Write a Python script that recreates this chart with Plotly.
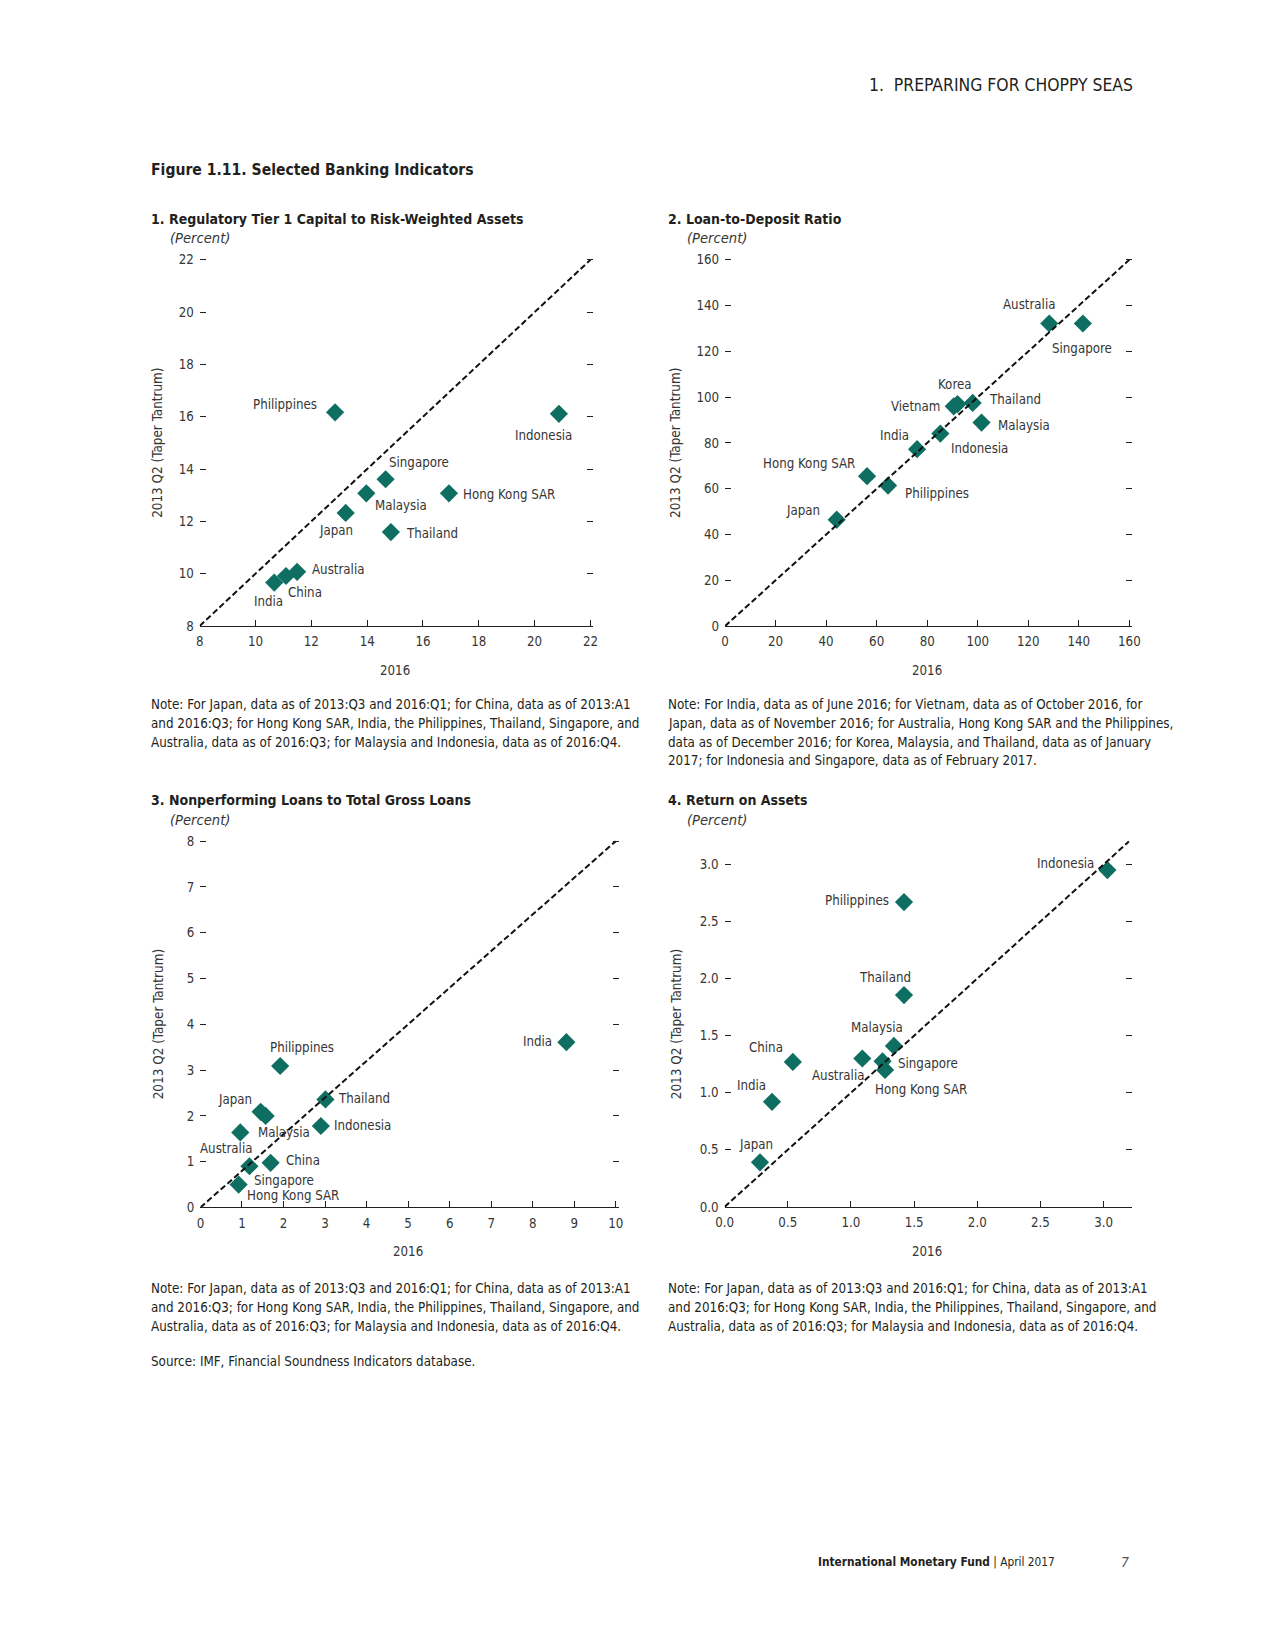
import plotly.graph_objects as go

W, H = 1275, 1650
FONT = "DejaVu Sans Condensed, Liberation Sans, sans-serif"
TEAL = "#0f6e62"
INK = "#231f20"
GREY = "#363636"

# ---------------- data ----------------
# Panel 1: Regulatory Tier 1 capital to RWA
p1_names = ["Philippines", "Indonesia", "Singapore", "Malaysia", "Hong Kong SAR",
            "Japan", "Thailand", "Australia", "China", "India"]
p1_x2016 = [12.85, 20.87, 14.66, 13.97, 16.93, 13.23, 14.85, 11.49, 11.09, 10.67]
p1_y2013 = [16.17, 16.11, 13.61, 13.07, 13.07, 12.32, 11.59, 10.07, 9.91, 9.66]
p1_xrange = [8, 22]
p1_yrange = [8, 22]
p1_ticks = [8, 10, 12, 14, 16, 18, 20, 22]

# Panel 2: Loan-to-deposit ratio
p2_names = ["Australia", "Singapore", "Korea", "Vietnam", "Thailand", "Malaysia",
            "Indonesia", "India", "Hong Kong SAR", "Philippines", "Japan"]
p2_x2016 = [128.3, 141.6, 92.0, 90.5, 98.0, 101.5, 85.2, 76.0, 56.2, 64.5, 44.2]
p2_y2013 = [132.2, 132.2, 97.0, 96.0, 97.5, 88.9, 84.1, 77.3, 65.5, 61.4, 46.5]
p2_xrange = [0, 160]
p2_yrange = [0, 160]
p2_ticks = [0, 20, 40, 60, 80, 100, 120, 140, 160]

# Panel 3: NPLs to total gross loans
p3_names = ["India", "Philippines", "Thailand", "Indonesia", "Japan", "Malaysia",
            "Australia", "China", "Singapore", "Hong Kong SAR"]
p3_x2016 = [8.81, 1.92, 3.01, 2.90, 1.45, 1.57, 0.96, 1.69, 1.18, 0.92]
p3_y2013 = [3.61, 3.09, 2.36, 1.78, 2.09, 2.00, 1.64, 0.975, 0.90, 0.50]
p3_xrange = [0, 10]
p3_yrange = [0, 8]
p3_xticks = [0, 1, 2, 3, 4, 5, 6, 7, 8, 9, 10]
p3_yticks = [0, 1, 2, 3, 4, 5, 6, 7, 8]

# Panel 4: Return on assets
p4_names = ["Indonesia", "Philippines", "Thailand", "Malaysia", "China", "Australia",
            "Singapore", "Hong Kong SAR", "India", "Japan"]
p4_x2016 = [3.03, 1.42, 1.42, 1.34, 0.54, 1.09, 1.25, 1.27, 0.375, 0.28]
p4_y2013 = [2.95, 2.67, 1.855, 1.41, 1.27, 1.30, 1.275, 1.20, 0.92, 0.39]
p4_xrange = [0, 3.2]
p4_yrange = [0, 3.2]
p4_ticks = [0.0, 0.5, 1.0, 1.5, 2.0, 2.5, 3.0]

# label placement (xanchor, xshift px, yshift px) -- styling only
p1_lab = [("right", -16, 8), ("center", -15, -22), ("left", 1, 17), ("left", 7, -12),
          ("left", 12, -1), ("center", -10, -18), ("left", 13, -1), ("left", 13, 2),
          ("left", 0, -17), ("center", -6, -19)]
p2_lab = [("center", -20, 19), ("center", -1, -25), ("center", -3, 20), ("right", -12, 0),
          ("left", 14, 3), ("left", 14, -3), ("left", 9, -15), ("right", -6, 14),
          ("right", -10, 13), ("left", 15, -8), ("right", -15, 9)]
p3_lab = [("right", -12, 1), ("center", 22, 18), ("left", 11, 1), ("left", 11, 0),
          ("right", -7, 12), ("left", -10, -17), ("center", -14, -16), ("left", 13, 2),
          ("left", 3, -14), ("left", 6, -11)]
p4_lab = [("right", -11, 7), ("right", -13, 2), ("center", -19, 18), ("center", -17, 18),
          ("center", -27, 14), ("center", -24, -17), ("left", 13, -2), ("left", -12, -20),
          ("center", -20, 16), ("center", -4, 18)]

# note texts (one entry per printed line)
note_a = ["Note: For Japan, data as of 2013:Q3 and 2016:Q1; for China, data as of 2013:A1",
          "and 2016:Q3; for Hong Kong SAR, India, the Philippines, Thailand, Singapore, and",
          "Australia, data as of 2016:Q3; for Malaysia and Indonesia, data as of 2016:Q4."]
note_b = ["Note: For India, data as of June 2016; for Vietnam, data as of October 2016, for",
          "Japan, data as of November 2016; for Australia, Hong Kong SAR and the Philippines,",
          "data as of December 2016; for Korea, Malaysia, and Thailand, data as of January",
          "2017; for Indonesia and Singapore, data as of February 2017."]
source_line = ["Source: IMF, Financial Soundness Indicators database."]

LAB = 13.2   # label / tick font size
PADPX = 3.0  # px of headroom beyond the top / right frame so end ticks get drawn


def px_x(v):
    return v / W


def px_y(v):
    return 1 - v / H


fig = go.Figure()
annotations = []
layout = {}

panels = [
    (1, (193.3, 589.3, 257.7, 626.5), p1_xrange, p1_yrange, p1_ticks, p1_ticks, None,
     p1_names, p1_x2016, p1_y2013, p1_lab),
    (2, (725.7, 1135.5, 257.7, 626.7), p2_xrange, p2_yrange, p2_ticks, p2_ticks, None,
     p2_names, p2_x2016, p2_y2013, p2_lab),
    (3, (194.0, 615.0, 843.3, 1212.3), p3_xrange, p3_yrange, p3_xticks, p3_yticks, None,
     p3_names, p3_x2016, p3_y2013, p3_lab),
    (4, (725.3, 1135.0, 843.7, 1211.7), p4_xrange, p4_yrange, p4_ticks, p4_ticks, ".1f",
     p4_names, p4_x2016, p4_y2013, p4_lab),
]

for n, (l, r, t, b), xr, yr, xt, yt, fmt, names, xs, ys, labs in panels:
    sfx = "" if n == 1 else str(n)
    xa, ya = "x" + sfx, "y" + sfx
    sx = (r - l) / (xr[1] - xr[0])
    sy = (b - t) / (yr[1] - yr[0])
    pxr = [xr[0], xr[1] + PADPX / sx]
    pyr = [yr[0], yr[1] + PADPX / sy]
    layout["xaxis" + sfx] = dict(
        domain=[px_x(l), px_x(r + PADPX)], range=pxr, anchor=ya, tickvals=xt,
        tickformat=fmt, ticks="inside", ticklen=6, tickwidth=1.2, tickcolor=INK,
        showline=True, linecolor=INK, linewidth=1.4, showgrid=False, zeroline=False,
        ticklabelstandoff=3,
        tickfont=dict(family=FONT, size=LAB, color=GREY), fixedrange=True,
    )
    layout["yaxis" + sfx] = dict(
        domain=[px_y(b), px_y(t - PADPX)], range=pyr, anchor=xa, tickvals=yt,
        tickformat=fmt, ticks="inside", ticklen=6, tickwidth=1.2, tickcolor=INK,
        mirror="ticks", showline=False, showgrid=False, zeroline=False,
        ticklabelstandoff=5,
        tickfont=dict(family=FONT, size=LAB, color=GREY), fixedrange=True,
    )
    fig.add_trace(go.Scatter(
        x=xs, y=ys, mode="markers", xaxis=xa, yaxis=ya, cliponaxis=False,
        marker=dict(symbol="diamond", size=14, color=TEAL, line=dict(width=0)),
        hovertext=names, showlegend=False))
    fig.add_trace(go.Scatter(
        x=[xr[0], xr[1]], y=[yr[0], yr[1]], mode="lines", xaxis=xa, yaxis=ya,
        line=dict(color="#111111", width=2, dash="6px,3px"), showlegend=False,
        hoverinfo="skip"))
    for name, xv, yv, (anc, dx, dy) in zip(names, xs, ys, labs):
        annotations.append(dict(
            x=xv, y=yv, xref=xa, yref=ya, text=name, showarrow=False,
            xanchor=anc, yanchor="middle", xshift=dx, yshift=dy,
            font=dict(family=FONT, size=LAB, color=GREY)))
    annotations.append(dict(
        x=px_x((l + r) / 2), y=px_y(671 if n <= 2 else 1257), xref="paper", yref="paper",
        text="2016", showarrow=False, xanchor="center", yanchor="middle",
        font=dict(family=FONT, size=LAB, color=GREY)))
    annotations.append(dict(
        x=px_x(151 if n in (1, 3) else 676), y=px_y((t + b) / 2), xref="paper", yref="paper",
        text="2013 Q2 (Taper Tantrum)", textangle=-90, showarrow=False,
        xanchor="center", yanchor="middle",
        font=dict(family=FONT, size=13.4, color=GREY)))

titles = [
    ("1. Regulatory Tier 1 Capital to Risk-Weighted Assets", 142, 217, 161, 235),
    ("2. Loan-to-Deposit Ratio", 666, 217, 685, 235),
    ("3. Nonperforming Loans to Total Gross Loans", 142, 802, 161, 821),
    ("4. Return on Assets", 666, 802, 685, 821),
]
for txt, tx, ty, sx_, sy_ in titles:
    annotations.append(dict(
        x=px_x(tx), y=px_y(ty), xref="paper", yref="paper", text="<b>" + txt + "</b>",
        showarrow=False, xanchor="left", yanchor="middle",
        font=dict(family=FONT, size=14, color=INK)))
    annotations.append(dict(
        x=px_x(sx_), y=px_y(sy_), xref="paper", yref="paper", text="<i>(Percent)</i>",
        showarrow=False, xanchor="left", yanchor="middle",
        font=dict(family=FONT, size=14.6, color=GREY)))

LINE = 19.0
notes = [(note_a, 142, 705.5), (note_b, 666, 705.5), (note_a, 142, 1294),
         (note_a, 666, 1294), (source_line, 142, 1367)]
for lines, nx, ny in notes:
    for i, txt in enumerate(lines):
        annotations.append(dict(
            x=px_x(nx), y=px_y(ny + i * LINE), xref="paper", yref="paper", text=txt,
            showarrow=False, xanchor="left", yanchor="middle", align="left",
            font=dict(family=FONT, size=13.3, color=INK)))

annotations.append(dict(
    x=px_x(1141), y=px_y(82), xref="paper", yref="paper",
    text="1.  PREPARING FOR CHOPPY SEAS", showarrow=False, xanchor="right",
    yanchor="middle", font=dict(family=FONT, size=17.4, color=INK)))
annotations.append(dict(
    x=px_x(142), y=px_y(167), xref="paper", yref="paper",
    text="<b>Figure 1.11. Selected Banking Indicators</b>", showarrow=False,
    xanchor="left", yanchor="middle", font=dict(family=FONT, size=15.6, color=INK)))
annotations.append(dict(
    x=px_x(1062), y=px_y(1569), xref="paper", yref="paper",
    text="<b>International Monetary Fund</b> | April 2017", showarrow=False,
    xanchor="right", yanchor="middle", font=dict(family=FONT, size=11.8, color=INK)))
annotations.append(dict(
    x=px_x(1137), y=px_y(1569), xref="paper", yref="paper",
    text="<i>7</i>", showarrow=False, xanchor="right",
    yanchor="middle", font=dict(family=FONT, size=14, color="#555555")))

fig.update_layout(
    width=W, height=H, margin=dict(l=0, r=0, t=0, b=0),
    paper_bgcolor="white", plot_bgcolor="white",
    font=dict(family=FONT, color=INK), showlegend=False,
    annotations=annotations, **layout)

fig.write_html("out.html", config={"displayModeBar": False},
               post_script="document.body.style.margin='0px';")
